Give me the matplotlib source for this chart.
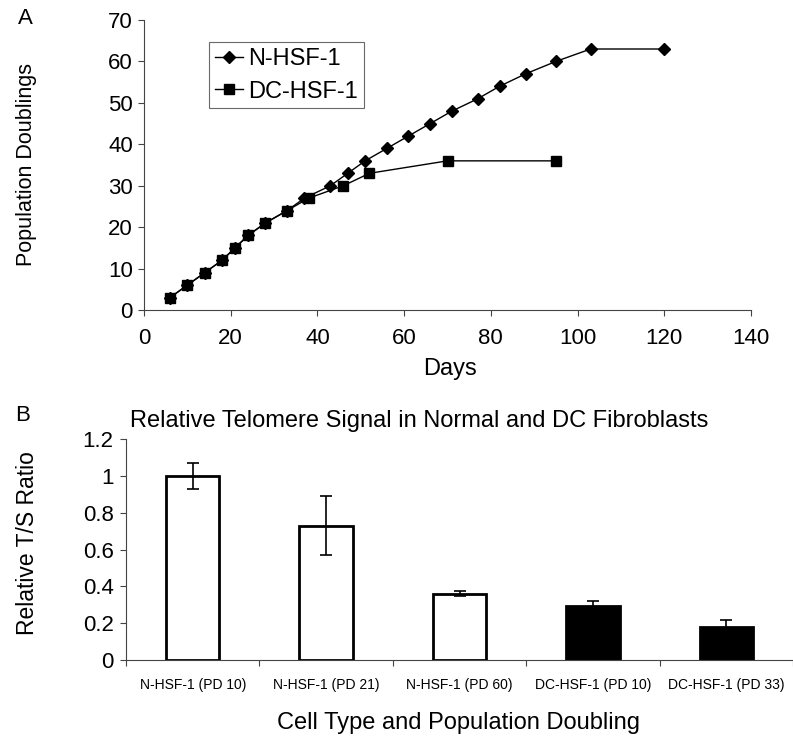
import numpy as np
import matplotlib
matplotlib.use("Agg")
import matplotlib.pyplot as plt

plt.rcParams['font.family'] = ['Liberation Sans', 'DejaVu Sans']

# growth curves (panel A)
n_days = [6, 10, 14, 18, 21, 24, 28, 33, 37, 43, 47, 51, 56, 61, 66, 71, 77, 82, 88, 95, 103, 120]
n_pd = [3, 6, 9, 12, 15, 18, 21, 24, 27, 30, 33, 36, 39, 42, 45, 48, 51, 54, 57, 60, 63, 63]
dc_days = [6, 10, 14, 18, 21, 24, 28, 33, 38, 46, 52, 70, 95]
dc_pd = [3, 6, 9, 12, 15, 18, 21, 24, 27, 30, 33, 36, 36]

# telomere signal (panel B)
categories = ["N-HSF-1 (PD 10)", "N-HSF-1 (PD 21)", "N-HSF-1 (PD 60)",
              "DC-HSF-1 (PD 10)", "DC-HSF-1 (PD 33)"]
ts_ratio = [1.0, 0.73, 0.36, 0.295, 0.18]
ts_err = [0.07, 0.16, 0.015, 0.025, 0.035]
bar_colors = ["white", "white", "white", "black", "black"]

fig = plt.figure(figsize=(7.93, 7.36), dpi=100)

# ---- panel A ----
ax1 = fig.add_axes([144/793, 1 - 310/736, 607/793, 290/736])
ax1.plot(n_days, n_pd, color="black", lw=1, marker="D", ms=6.5, label="N-HSF-1")
ax1.plot(dc_days, dc_pd, color="black", lw=1, marker="s", ms=7, label="DC-HSF-1")
ax1.set_xlim(0, 140)
ax1.set_ylim(0, 70)
ax1.set_xticks(range(0, 141, 20))
ax1.set_yticks(range(0, 71, 10))
for s in ["top", "right"]:
    ax1.spines[s].set_visible(False)
for s in ["left", "bottom"]:
    ax1.spines[s].set_color("#444444")
    ax1.spines[s].set_linewidth(0.8)
ax1.tick_params(labelsize=16, length=4, width=0.8, color="#444444")
ax1.tick_params(axis="x", pad=9)
ax1.tick_params(axis="y", pad=4)
ax1.set_xlabel("Days", fontsize=17)
ax1.xaxis.set_label_coords(0.504, -0.165)
ax1.set_ylabel("Population Doublings", fontsize=15.5)
ax1.yaxis.set_label_coords(-0.176, 0.5)
leg = ax1.legend(loc="upper left", bbox_to_anchor=(0.107, 0.924), fontsize=17,
                 frameon=True, fancybox=False, edgecolor="#444444",
                 handlelength=1.2, handletextpad=0.2, borderpad=0.25,
                 labelspacing=0.45, borderaxespad=0)
leg.get_frame().set_linewidth(0.8)
fig.text(18/793, 1 - 19/736, "A", fontsize=16, va="center")

# ---- panel B ----
ax2 = fig.add_axes([126/793, 1 - 660/736, 667/793, 221/736])
x = np.arange(len(categories))
ax2.bar(x, ts_ratio, width=0.4, color=bar_colors, edgecolor="black", linewidth=2)
ax2.errorbar(x, ts_ratio, yerr=ts_err, fmt="none", ecolor="black",
             elinewidth=1.2, capsize=4, capthick=1.2)
ax2.set_xlim(-0.5, len(categories) - 0.5)
ax2.set_ylim(0, 1.2)
ax2.set_yticks([0, 0.2, 0.4, 0.6, 0.8, 1.0, 1.2])
ax2.set_yticklabels(["0", "0.2", "0.4", "0.6", "0.8", "1", "1.2"])
ax2.set_xticks(x)
ax2.set_xticklabels(categories, fontsize=10, fontfamily=["Liberation Sans Narrow", "Liberation Sans"])
ax2.set_xticks(np.arange(len(categories) + 1) - 0.5, minor=True)
ax2.tick_params(axis="x", which="major", length=0, pad=13)
ax2.tick_params(axis="x", which="minor", length=4, width=0.8, color="#444444")
ax2.tick_params(axis="y", labelsize=16, length=4, width=0.8, color="#444444", pad=5)
for s in ["top", "right"]:
    ax2.spines[s].set_visible(False)
for s in ["left", "bottom"]:
    ax2.spines[s].set_color("#444444")
    ax2.spines[s].set_linewidth(0.8)
ax2.set_title("Relative Telomere Signal in Normal and DC Fibroblasts", fontsize=17, pad=9, x=0.44)
ax2.set_xlabel("Cell Type and Population Doubling", fontsize=17)
ax2.xaxis.set_label_coords(0.498, -0.235)
ax2.set_ylabel("Relative T/S Ratio", fontsize=16.5)
ax2.yaxis.set_label_coords(-0.13, 0.53)
fig.text(15/793, 1 - 416/736, "B", fontsize=16, va="center")

fig.savefig("out.png", dpi=100)
